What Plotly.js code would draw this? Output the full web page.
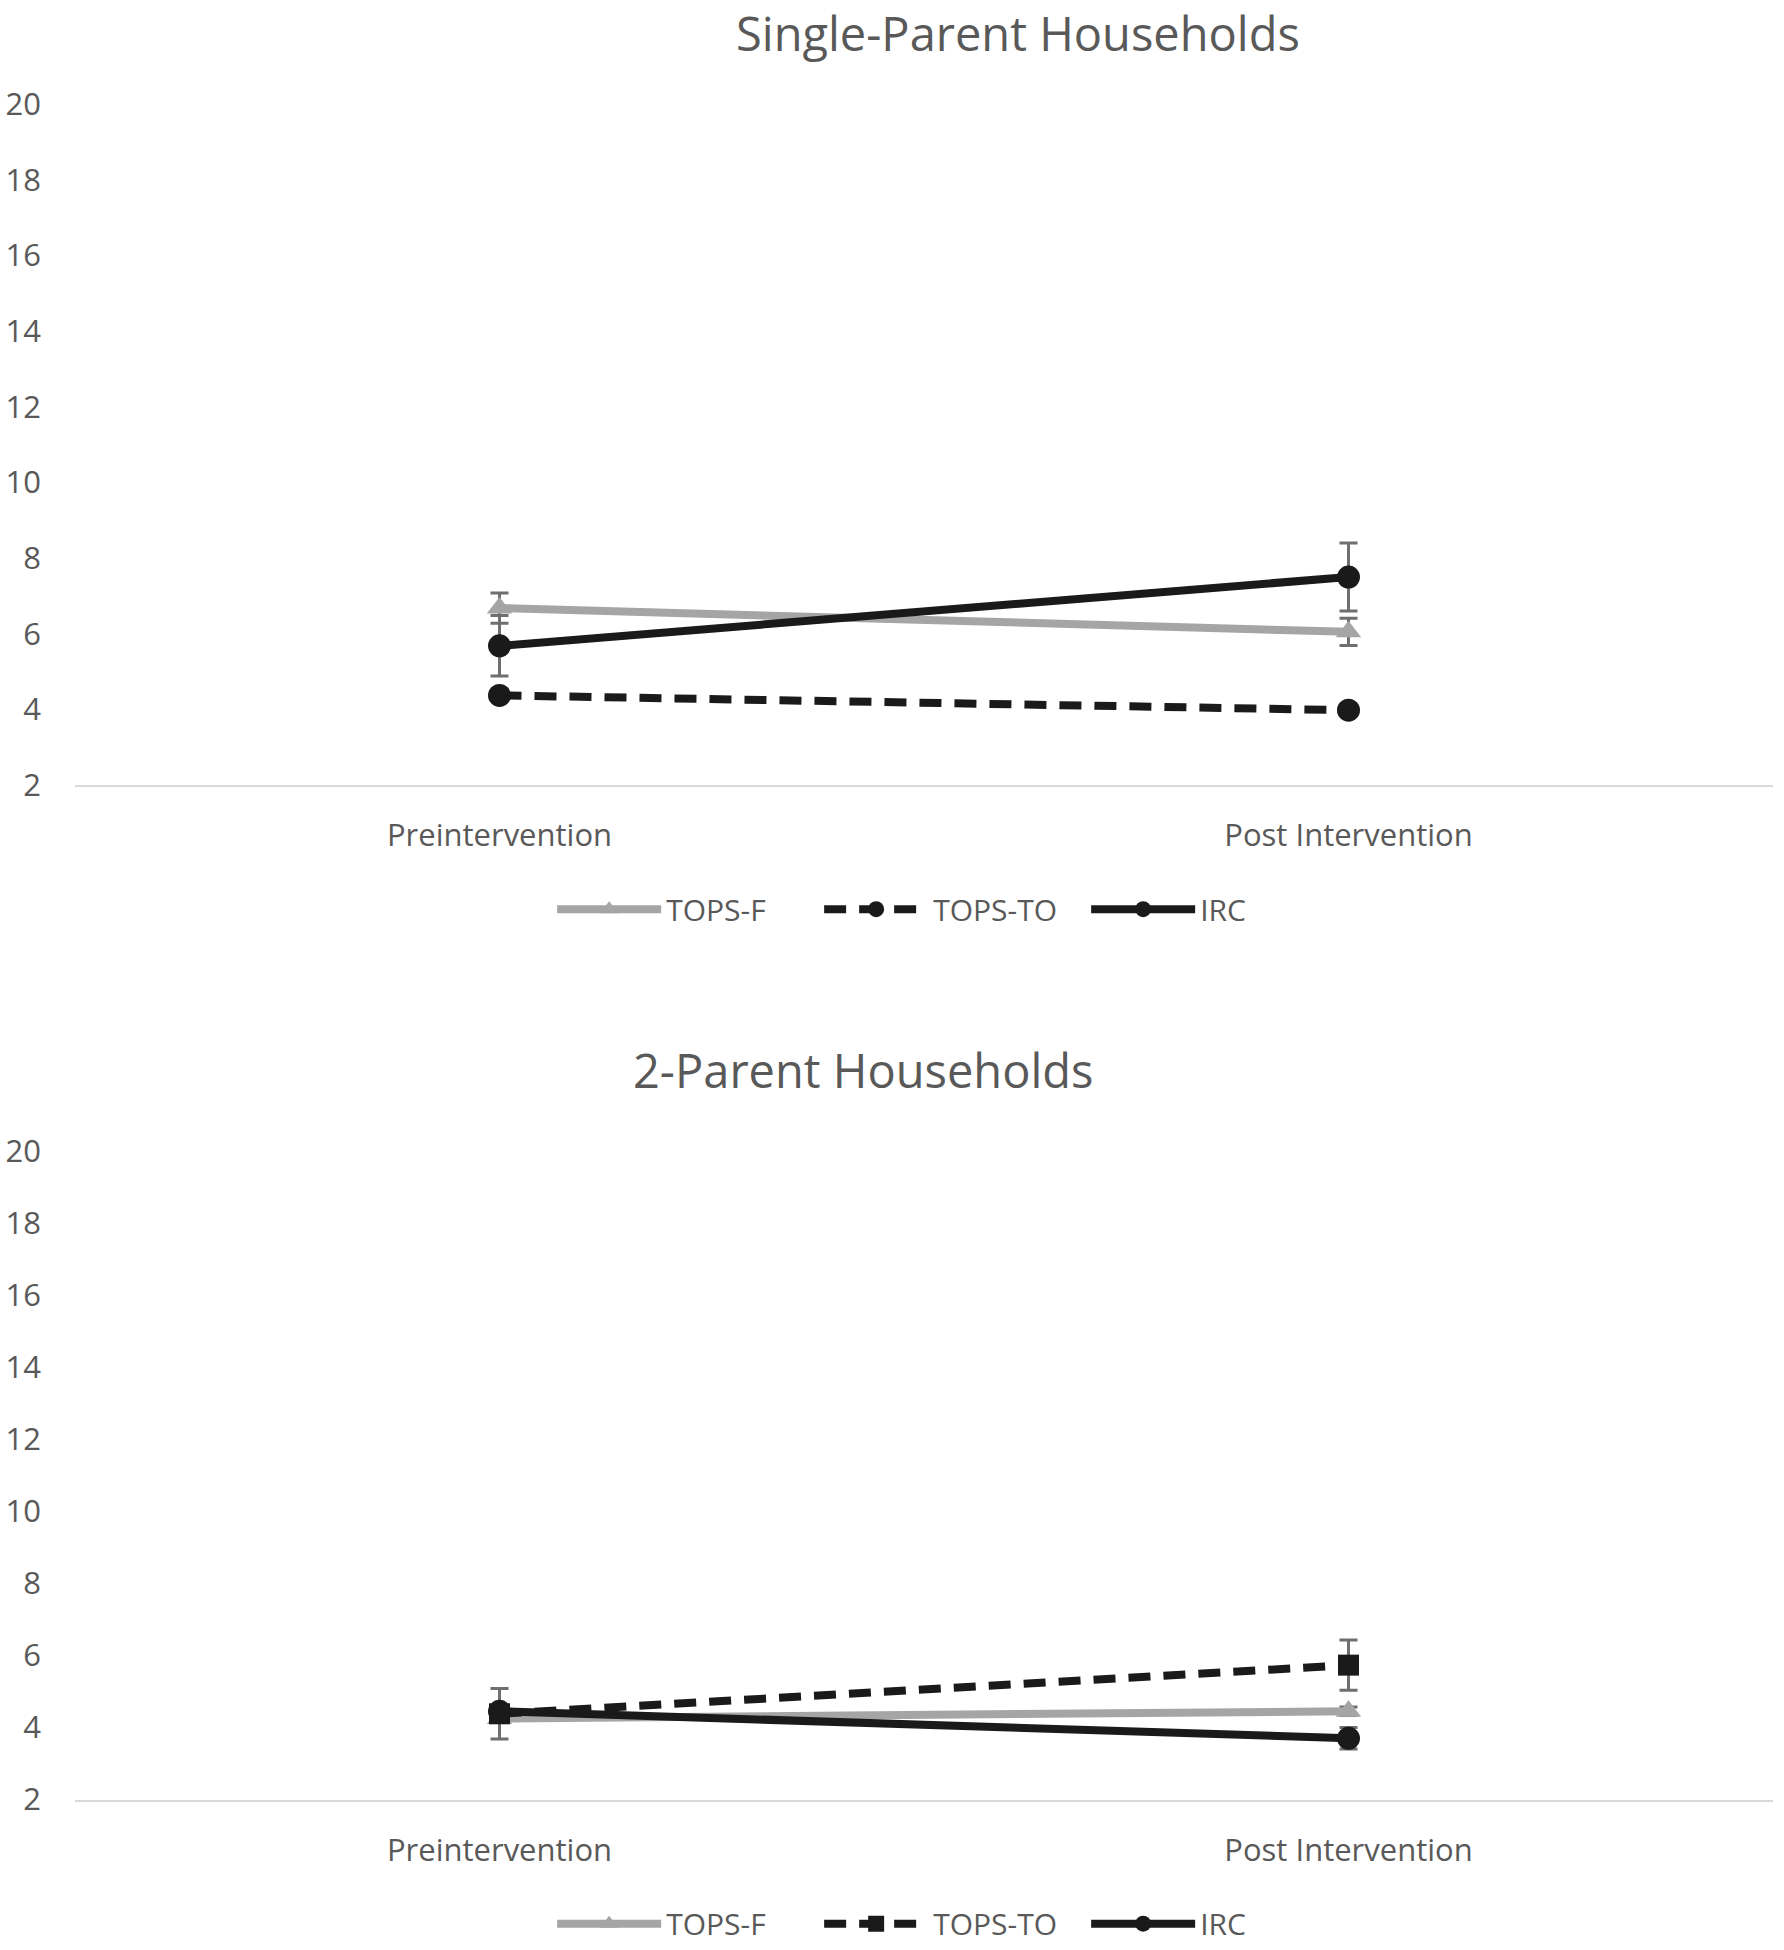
<!DOCTYPE html>
<html>
<head>
<meta charset="utf-8">
<script src="https://cdn.plot.ly/plotly-3.0.1.min.js"></script>
<style>html,body{margin:0;padding:0;background:#fff;}#chart{width:1784px;height:1950px;}</style>
</head>
<body>
<div id="chart"></div>
<script>
// Categories
const categories = ['Preintervention', 'Post Intervention'];
const seriesNames = ['TOPS-F', 'TOPS-TO', 'IRC'];
const yTicks = [2, 4, 6, 8, 10, 12, 14, 16, 18, 20];

// Single-Parent Households
const singleTopsF = [6.68, 6.05];
const singleTopsFErr = [0.4, 0.36];
const singleTopsTO = [4.37, 3.98];
const singleTopsTOErr = [0, 0];
const singleIRC = [5.68, 7.5];
const singleIRCErr = [0.8, 0.9];

// 2-Parent Households
const twoTopsF = [4.25, 4.45];
const twoTopsFErr = [0.1, 0.12];
const twoTopsTO = [4.38, 5.73];
const twoTopsTOErr = [0.7, 0.7];
const twoIRC = [4.45, 3.7];
const twoIRCErr = [0.1, 0.3];

const grey = '#A5A5A5', black = '#1a1a1a', errCol = '#6f6f6f', txt = '#595959';
const FONT = 'Open Sans';

function tr(name, y, err, color, dash, symbol, xa, ya, leg) {
  return {
    type: 'scatter', mode: 'lines+markers', name: name,
    x: categories, y: y, xaxis: xa, yaxis: ya, legend: leg,
    line: {color: color, width: 8, dash: dash},
    marker: {color: color, size: symbol === 'triangle-up' ? 22 : (symbol === 'square' ? 21 : 23), symbol: symbol},
    error_y: {type: 'data', array: err, visible: true, color: errCol, thickness: 3, width: 9},
    hoverinfo: 'skip'
  };
}

const data = [
  tr(seriesNames[0], singleTopsF, singleTopsFErr, grey, 'solid', 'triangle-up', 'x', 'y', 'legend'),
  tr(seriesNames[1], singleTopsTO, singleTopsTOErr, black, '22px,13px', 'circle', 'x', 'y', 'legend'),
  tr(seriesNames[2], singleIRC, singleIRCErr, black, 'solid', 'circle', 'x', 'y', 'legend'),
  tr(seriesNames[0], twoTopsF, twoTopsFErr, grey, 'solid', 'triangle-up', 'x2', 'y2', 'legend2'),
  tr(seriesNames[1], twoTopsTO, twoTopsTOErr, black, '22px,13px', 'square', 'x2', 'y2', 'legend2'),
  tr(seriesNames[2], twoIRC, twoIRCErr, black, 'solid', 'circle', 'x2', 'y2', 'legend2')
];

function xax(anchor) {
  return {
    anchor: anchor, domain: [0, 1], type: 'category', range: [-0.5, 1.5],
    showline: true, linecolor: '#D9D9D9', linewidth: 2, showgrid: false, zeroline: false,
    ticks: '', ticklabelstandoff: 22, automargin: false,
    tickfont: {family: FONT, size: 31, color: txt}
  };
}
function yax(anchor, domain) {
  return {
    anchor: anchor, domain: domain, range: [2, 20], tickvals: yTicks,
    showline: false, showgrid: false, zeroline: false, ticks: '',
    ticklabelstandoff: 33, automargin: false,
    tickfont: {family: FONT, size: 31, color: txt}
  };
}
function leg(y) {
  return {
    orientation: 'h', x: 0.281, xanchor: 'left', y: y, yanchor: 'middle',
    font: {family: FONT, size: 30, color: txt}, itemwidth: 104, entrywidth: 148,
    bgcolor: 'rgba(0,0,0,0)'
  };
}

const layout = {
  width: 1784, height: 1950,
  margin: {l: 75, r: 11, t: 0, b: 0},
  paper_bgcolor: '#ffffff', plot_bgcolor: '#ffffff',
  showlegend: true,
  xaxis: xax('y'), yaxis: yax('x', [0.597, 0.9465]),
  xaxis2: xax('y2'), yaxis2: yax('x2', [0.0762, 0.4092]),
  legend: leg(0.5333),
  legend2: leg(0.0125),
  annotations: [
    {text: 'Single-Parent Households', xref: 'paper', yref: 'paper', x: 0.5555, y: 1.0,
     xanchor: 'center', yanchor: 'top', borderpad: 0, showarrow: false, font: {family: FONT, size: 47, color: txt}},
    {text: '2-Parent Households', xref: 'paper', yref: 'paper', x: 0.464, y: 0.4506,
     xanchor: 'center', yanchor: 'middle', showarrow: false, font: {family: FONT, size: 47, color: txt}}
  ]
};

Plotly.newPlot('chart', data, layout, {staticPlot: true, displayModeBar: false});
</script>
</body>
</html>
